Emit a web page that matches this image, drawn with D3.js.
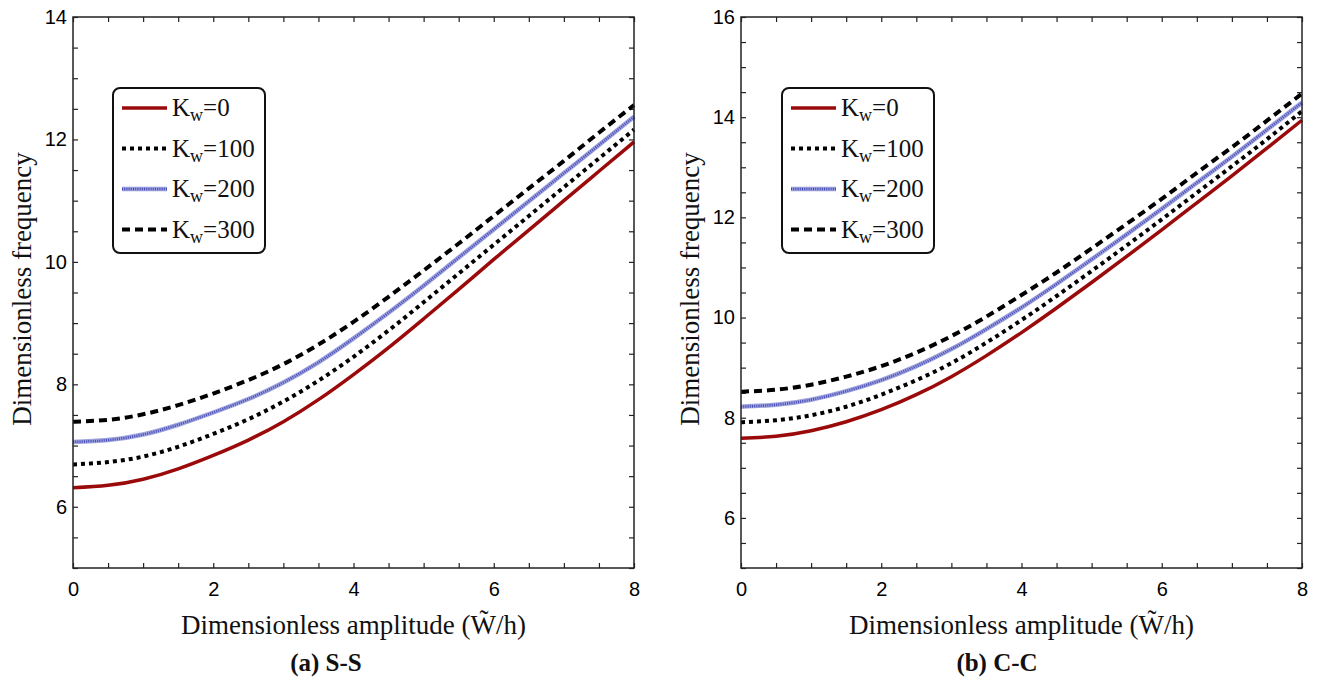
<!DOCTYPE html>
<html>
<head>
<meta charset="utf-8">
<script src="https://cdn.jsdelivr.net/npm/d3@7"></script>
<style>
  body { margin: 0; background: #fff; }
  svg { display: block; }
</style>
</head>
<body>
<div class="chart"></div>
<script>
// amplitude values (x axis)
var amplitude = [0, 0.5, 1, 1.5, 2, 2.5, 3, 3.5, 4, 4.5, 5, 5.5, 6, 6.5, 7, 7.5, 8];

// (a) S-S
var ssK0   = [6.31, 6.35, 6.45, 6.62, 6.84, 7.09, 7.39, 7.75, 8.16, 8.60, 9.07, 9.55, 10.04, 10.52, 11.00, 11.48, 11.96];
var ssK100 = [6.69, 6.73, 6.82, 6.98, 7.19, 7.43, 7.72, 8.06, 8.45, 8.88, 9.34, 9.81, 10.28, 10.75, 11.22, 11.69, 12.16];
var ssK200 = [7.06, 7.09, 7.18, 7.34, 7.54, 7.76, 8.03, 8.36, 8.75, 9.17, 9.61, 10.07, 10.53, 10.99, 11.45, 11.91, 12.37];
var ssK300 = [7.39, 7.42, 7.51, 7.66, 7.85, 8.07, 8.33, 8.65, 9.02, 9.43, 9.86, 10.30, 10.75, 11.20, 11.65, 12.11, 12.56];

// (b) C-C
var ccK0   = [7.59, 7.63, 7.74, 7.92, 8.16, 8.46, 8.82, 9.24, 9.70, 10.19, 10.70, 11.22, 11.75, 12.29, 12.83, 13.38, 13.94];
var ccK100 = [7.91, 7.95, 8.05, 8.22, 8.46, 8.75, 9.09, 9.50, 9.95, 10.43, 10.93, 11.44, 11.96, 12.49, 13.02, 13.56, 14.12];
var ccK200 = [8.22, 8.26, 8.36, 8.53, 8.75, 9.03, 9.37, 9.77, 10.20, 10.67, 11.16, 11.66, 12.17, 12.69, 13.21, 13.75, 14.29];
var ccK300 = [8.52, 8.56, 8.66, 8.82, 9.03, 9.30, 9.63, 10.02, 10.45, 10.90, 11.38, 11.87, 12.37, 12.89, 13.40, 13.93, 14.47];

var kwLabels = ["0", "100", "200", "300"];
var xTicks = [0, 2, 4, 6, 8];
var ssYTicks = [6, 8, 10, 12, 14];
var ccYTicks = [6, 8, 10, 12, 14, 16];

var serif = '"Liberation Serif", "Times New Roman", serif';
var sans = '"Liberation Sans", Arial, sans-serif';

var svg = d3.select(".chart")
  .append("svg")
    .attr("width", 1320)
    .attr("height", 682);

// line styles per Kw series
var styles = [
  { stroke: "#9b0a0a", width: 3.5, dash: null },
  { stroke: "#000", width: 4, dash: "4,4" },
  { stroke: "#9da2df", width: 4.5, dash: null, inner: "#2f35a8" },
  { stroke: "#000", width: 4, dash: "8,5" }
];

function drawPanel(opt) {
  var w = 561, h = 551;
  var g = svg.append("g")
    .attr("transform", "translate(" + opt.left + "," + opt.top + ")");

  var x = d3.scaleLinear().domain([0, 8]).range([0, w]);
  var y = d3.scaleLinear().domain(opt.yDomain).range([h, 0]);

  var minorX = d3.range(0, 8.01, 0.5);
  var minorY = d3.range(opt.yDomain[0], opt.yDomain[1] + 0.01, 0.5);

  // inward ticks on all four sides
  function tickAxis(axis, tr) {
    var a = g.append("g").attr("transform", tr).call(axis);
    a.select(".domain").remove();
    a.selectAll(".tick line").attr("stroke", "#222").attr("stroke-width", 1.2);
    return a;
  }
  tickAxis(d3.axisBottom(x).tickValues(minorX).tickSize(-5).tickFormat(""), "translate(0," + h + ")");
  tickAxis(d3.axisTop(x).tickValues(minorX).tickSize(-5).tickFormat(""), "translate(0,0)");
  tickAxis(d3.axisLeft(y).tickValues(minorY).tickSize(-5).tickFormat(""), "translate(0,0)");
  tickAxis(d3.axisRight(y).tickValues(minorY).tickSize(-5).tickFormat(""), "translate(" + w + ",0)");

  // tick labels
  var gx = g.append("g").attr("transform", "translate(0," + h + ")")
    .call(d3.axisBottom(x).tickValues(xTicks).tickSize(0).tickPadding(14).tickFormat(d3.format("d")));
  gx.select(".domain").remove();
  var gy = g.append("g")
    .call(d3.axisLeft(y).tickValues(opt.yTicks).tickSize(0).tickPadding(6).tickFormat(d3.format("d")));
  gy.select(".domain").remove();
  g.selectAll(".tick text")
    .style("font-family", sans)
    .style("font-size", "20px")
    .attr("fill", "#000");

  // curves
  var line = d3.line()
    .x(function(d) { return x(d[0]); })
    .y(function(d) { return y(d[1]); })
    .curve(d3.curveNatural);

  opt.series.forEach(function(vals, i) {
    var pts = amplitude.map(function(a, j) { return [a, vals[j]]; });
    var s = styles[i];
    g.append("path")
      .datum(pts)
      .attr("fill", "none")
      .attr("stroke", s.stroke)
      .attr("stroke-width", s.width)
      .attr("stroke-dasharray", s.dash)
      .attr("d", line);
    if (s.inner) {
      g.append("path")
        .datum(pts)
        .attr("fill", "none")
        .attr("stroke", s.inner)
        .attr("stroke-width", 2.5)
        .attr("stroke-dasharray", "1,1.2")
        .attr("opacity", 0.8)
        .attr("d", line);
    }
  });

  // frame
  g.append("rect")
    .attr("width", w).attr("height", h)
    .attr("fill", "none")
    .attr("stroke", "#222")
    .attr("stroke-width", 1.5);

  // legend
  var lg = g.append("g").attr("transform", "translate(" + opt.legendX + ",71)");
  lg.append("rect")
    .attr("width", 152).attr("height", 165)
    .attr("rx", 7)
    .attr("fill", "#fff")
    .attr("stroke", "#111")
    .attr("stroke-width", 2);
  kwLabels.forEach(function(lab, i) {
    var ly = 20 + i * 40.5;
    var s = styles[i];
    lg.append("line")
      .attr("x1", 9).attr("x2", 54).attr("y1", ly).attr("y2", ly)
      .attr("stroke", s.stroke)
      .attr("stroke-width", s.width)
      .attr("stroke-dasharray", s.dash);
    if (s.inner) {
      lg.append("line")
        .attr("x1", 9).attr("x2", 54).attr("y1", ly).attr("y2", ly)
        .attr("stroke", s.inner)
        .attr("stroke-width", 2.5)
        .attr("stroke-dasharray", "1,1.2")
        .attr("opacity", 0.8);
    }
    var t = lg.append("text")
      .attr("x", 59).attr("y", ly + 8)
      .style("font-family", serif)
      .style("font-size", "25px")
      .attr("fill", "#111");
    t.append("tspan").text("K");
    t.append("tspan").attr("dy", 5).style("font-size", "18px").text("w");
    t.append("tspan").attr("dy", -5).text("=" + lab);
  });

  // axis titles
  svg.append("text")
    .attr("transform", "translate(" + (opt.left - 42) + "," + (opt.top + 272) + ") rotate(-90)")
    .attr("text-anchor", "middle")
    .style("font-family", serif)
    .style("font-size", "27px")
    .attr("fill", "#111")
    .text("Dimensionless frequency");

  svg.append("text")
    .attr("x", opt.left + w / 2)
    .attr("y", 634)
    .attr("text-anchor", "middle")
    .style("font-family", serif)
    .style("font-size", "27px")
    .attr("fill", "#111")
    .text("Dimensionless amplitude (W\u0303/h)");

  svg.append("text")
    .attr("x", opt.captionX)
    .attr("y", 671)
    .attr("text-anchor", "middle")
    .style("font-family", serif)
    .style("font-size", "25px")
    .style("font-weight", "bold")
    .attr("fill", "#111")
    .text(opt.caption);
}

drawPanel({
  left: 73, top: 17, yDomain: [5, 14], yTicks: ssYTicks,
  series: [ssK0, ssK100, ssK200, ssK300],
  legendX: 40, caption: "(a) S-S", captionX: 326
});

drawPanel({
  left: 741, top: 17, yDomain: [5, 16], yTicks: ccYTicks,
  series: [ccK0, ccK100, ccK200, ccK300],
  legendX: 41, caption: "(b) C-C", captionX: 997
});
</script>
</body>
</html>
